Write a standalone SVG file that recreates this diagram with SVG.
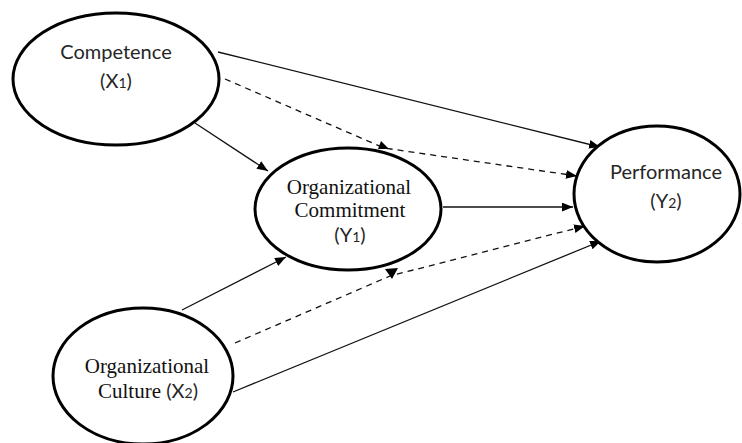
<svg xmlns="http://www.w3.org/2000/svg" width="742" height="443" viewBox="0 0 742 443">
<defs>
<style>
.node ellipse{fill:#fff;stroke:#000;stroke-width:3}
.sans{font-family:Lato,"Liberation Sans",sans-serif;font-size:20px;fill:#262626;text-anchor:middle}
.serif{font-family:"Liberation Serif","Times New Roman",serif;font-size:21px;fill:#111;text-anchor:middle}
.sub{font-size:14px}
.ln{fill:none;stroke:#111;stroke-width:1.3}
.dash{stroke-dasharray:6 5}
.head{fill:#000}
</style>
<marker id="arr" viewBox="0 0 10 8" refX="10" refY="4" markerWidth="11" markerHeight="9" markerUnits="userSpaceOnUse" orient="auto">
<path d="M0,0 L10,4 L0,8 Z" fill="#000"/>
</marker>
</defs>
<rect width="742" height="443" fill="#fff"/>
<g id="connectors">
<line class="ln" x1="218" y1="52" x2="600" y2="147" marker-end="url(#arr)"/>
<polyline class="ln dash" points="225,79 384,148 577,176" marker-end="url(#arr)"/>
<polygon class="head" points="389,149 378,149 381,141"/>
<line class="ln" x1="195" y1="123" x2="268" y2="171" marker-end="url(#arr)"/>
<line class="ln" x1="443" y1="207" x2="573" y2="207" marker-end="url(#arr)"/>
<line class="ln" x1="182" y1="310" x2="286" y2="257" marker-end="url(#arr)"/>
<polyline class="ln dash" points="235,343 390,276 585,226" marker-end="url(#arr)"/>
<polygon class="head" points="385,269 398,268 392,279"/>
<line class="ln" x1="233" y1="392" x2="601" y2="241" marker-end="url(#arr)"/>
</g>
<g id="competence" class="node">
<ellipse cx="116" cy="79" rx="103" ry="66"/>
<text class="sans" x="116" y="59">Competence</text>
<text class="sans" x="116" y="88">(X<tspan class="sub">1</tspan>)</text>
</g>
<g id="commitment" class="node">
<ellipse cx="348" cy="209" rx="93" ry="61"/>
<text class="serif" x="349" y="194">Organizational</text>
<text class="serif" x="350" y="217">Commitment</text>
<text class="sans" x="350" y="242">(Y<tspan class="sub">1</tspan>)</text>
</g>
<g id="performance" class="node">
<ellipse cx="657" cy="194" rx="83" ry="68"/>
<text class="sans" x="666" y="179">Performance</text>
<text class="sans" x="666" y="208">(Y<tspan class="sub">2</tspan>)</text>
</g>
<g id="culture" class="node">
<ellipse cx="143" cy="376" rx="90" ry="68"/>
<text class="serif" x="147" y="373">Organizational</text>
<text class="serif" x="148" y="398">Culture <tspan class="sans" style="font-size:20px">(X<tspan class="sub">2</tspan>)</tspan></text>
</g>
</svg>
